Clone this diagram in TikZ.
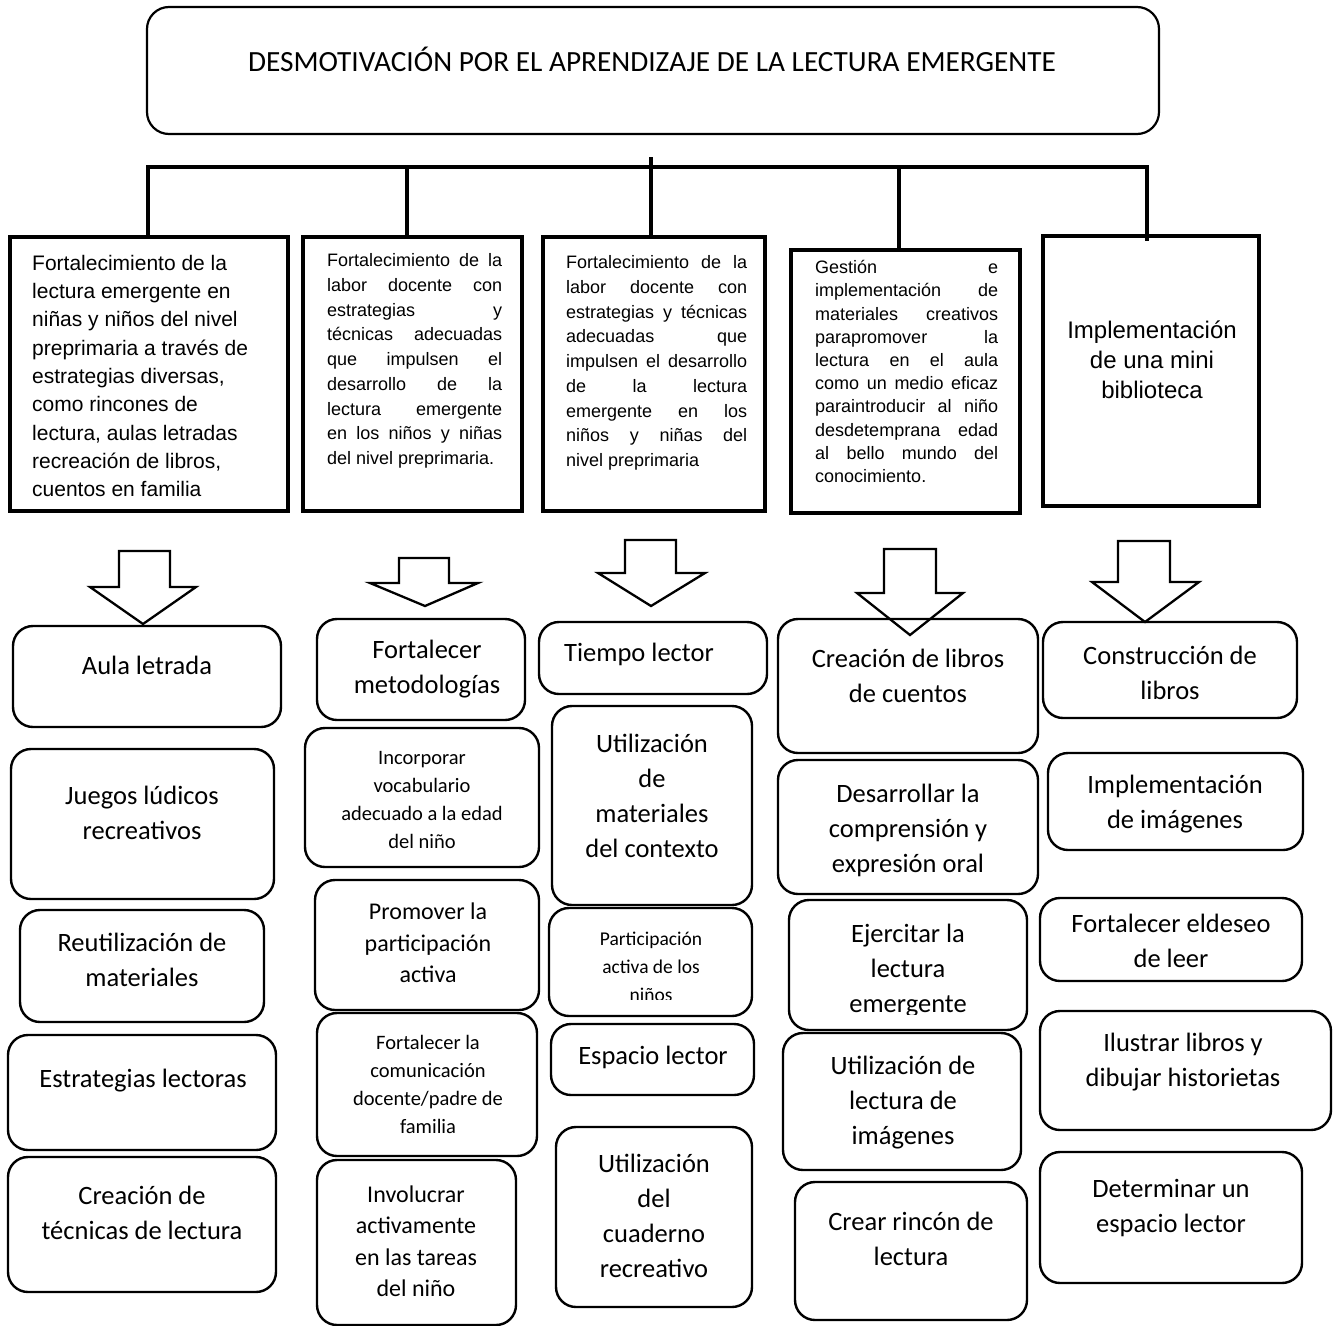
\documentclass[tikz,border=0pt]{standalone}
\usepackage{fontspec}
\setmainfont{Liberation Sans}
\newfontfamily\calfnt{Carlito}
\usetikzlibrary{fit}
\newcommand\jline[2]{\makebox[#1][s]{#2}}
\begin{document}
\begin{tikzpicture}[x=1pt,y=-1pt,
  topbox/.style={draw, line width=3.5pt, inner sep=0pt},
  titlebox/.style={draw, line width=2.2pt, rounded corners=22pt, inner sep=0pt},
  rb/.style={draw, line width=2.4pt, rounded corners=20pt, inner sep=0pt},
  bus/.style={line width=3.6pt},
  barrow/.style={line width=2.3pt, line join=miter},
  tb/.style={font=\calfnt\fontsize{26.5}{35}\selectfont, align=center, inner sep=0pt},
  tm/.style={font=\calfnt\fontsize{24}{31.5}\selectfont, align=center, inner sep=0pt},
  ts/.style={font=\calfnt\fontsize{20.5}{28}\selectfont, align=center, inner sep=0pt},
  ta/.style={font=\fontsize{21}{28.3}\selectfont, align=left, inner sep=0pt, anchor=west},
  tj/.style={font=\fontsize{18}{24.7}\selectfont, align=left, inner sep=0pt, anchor=west},
  tk/.style={font=\fontsize{18}{23.2}\selectfont, align=left, inner sep=0pt, anchor=west}
]
\useasboundingbox (0,0) rectangle (1335,1325);

% title
\node[titlebox, fit={(147,7) (1159,134)}] (title) {};
\node[font=\calfnt\fontsize{29.3}{35}\selectfont, inner sep=0pt] (ttitle) at (652,59) {DESMOTIVACIÓN POR EL APRENDIZAJE DE LA LECTURA EMERGENTE};

% top boxes
\node[topbox, fit={(10,237) (288,511)}] (b1) {};
\node[topbox, fit={(303,237) (522,511)}] (b2) {};
\node[topbox, fit={(543,237) (765,511)}] (b3) {};
\node[topbox, fit={(791,250) (1020,513)}] (b4) {};
\node[topbox, fit={(1043,236) (1259,506)}] (b5) {};

\node[ta] (tb1) at (32,376) {Fortalecimiento de la\\lectura emergente en\\niñas y niños del nivel\\preprimaria a través de\\estrategias diversas,\\como rincones de\\lectura, aulas letradas\\recreación de libros,\\cuentos en familia};

\node[tj] (tb2) at (327,361) {\jline{175pt}{Fortalecimiento de la}\\\jline{175pt}{labor docente con}\\\jline{175pt}{estrategias y}\\\jline{175pt}{técnicas adecuadas}\\\jline{175pt}{que impulsen el}\\\jline{175pt}{desarrollo de la}\\\jline{175pt}{lectura emergente}\\\jline{175pt}{en los niños y niñas}\\del nivel preprimaria.};

\node[tj] (tb3) at (566,363) {\jline{181pt}{Fortalecimiento de la}\\\jline{181pt}{labor docente con}\\\jline{181pt}{estrategias y técnicas}\\\jline{181pt}{adecuadas que}\\\jline{181pt}{impulsen el desarrollo}\\\jline{181pt}{de la lectura}\\\jline{181pt}{emergente en los}\\\jline{181pt}{niños y niñas del}\\nivel preprimaria};

\node[tk] (tb4) at (815,371.5) {\jline{183pt}{Gestión e}\\\jline{183pt}{implementación de}\\\jline{183pt}{materiales creativos}\\\jline{183pt}{parapromover la}\\\jline{183pt}{lectura en el aula}\\\jline{183pt}{como un medio eficaz}\\\jline{183pt}{paraintroducir al niño}\\\jline{183pt}{desdetemprana edad}\\\jline{183pt}{al bello mundo del}\\conocimiento.};

\node[font=\fontsize{24}{30}\selectfont, align=center, inner sep=0pt] (tb5) at (1152,360) {Implementación\\de una mini\\biblioteca};

% connectors
\coordinate (root) at (651,157);
\coordinate (busL) at (148,167);
\coordinate (busR) at (1147,167);
\coordinate (j2) at (407,167);
\coordinate (j3) at (651,167);
\coordinate (j4) at (899,167);
\draw[bus] (busL |- b1.north) -- (busL) -- (busR) -- (busR |- b5.north) -- ++(0,7);
\draw[bus] (root) -- (root |- b3.north);
\draw[bus] (j2) -- (j2 |- b2.north);
\draw[bus] (j4) -- (j4 |- b4.north);

% block arrows
\draw[barrow] (119,551) -- (170,551) -- (170,587) -- (196,587) -- (143,624) -- (90,587) -- (119,587) -- cycle;
\draw[barrow] (399,558) -- (449,558) -- (449,583) -- (478,583) -- (425,606) -- (370,583) -- (399,583) -- cycle;
\draw[barrow] (625,540) -- (676,540) -- (676,573) -- (705,573) -- (651,606) -- (598,573) -- (625,573) -- cycle;
\draw[barrow] (884,549) -- (936,549) -- (936,593) -- (963,593) -- (910,635) -- (857,593) -- (884,593) -- cycle;
\draw[barrow] (1118,541) -- (1170,541) -- (1170,582) -- (1199,582) -- (1145,622) -- (1092,582) -- (1118,582) -- cycle;

% column 1
\node[rb, fit={(13,626) (281,727)}] (r11) {};
\node[rb, fit={(11,749) (274,899)}] (r12) {};
\node[rb, fit={(20,910) (264,1022)}] (r13) {};
\node[rb, fit={(8,1035) (276,1150)}] (r14) {};
\node[rb, fit={(8,1157) (276,1292)}] (r15) {};
\node[tb] (t11) at (147,665) {Aula letrada};
\node[tb] (t12) at (142,813) {Juegos lúdicos\\recreativos};
\node[tb] (t13) at (142,960) {Reutilización de\\materiales};
\node[tb] (t14) at (143,1081) {Estrategias lectoras};
\node[tb] (t15) at (142,1213) {Creación de\\técnicas de lectura};

% column 2
\node[rb, fit={(317,619) (525,720)}] (r21) {};
\node[rb, fit={(305,728) (539,867)}] (r22) {};
\node[rb, fit={(315,880) (539,1010)}] (r23) {};
\node[rb, fit={(317,1013) (537,1156)}] (r24) {};
\node[rb, fit={(317,1160) (516,1325)}] (r25) {};
\node[tb] (t21) at (427,669) {Fortalecer\\metodologías};
\node[ts] (t22) at (422,800) {Incorporar\\vocabulario\\adecuado a la edad\\del niño};
\node[tm] (t23) at (428,943) {Promover la\\participación\\activa};
\node[ts] (t24) at (428,1084) {Fortalecer la\\comunicación\\docente/padre de\\familia};
\node[tm] (t25) at (416,1241) {Involucrar\\activamente\\en las tareas\\del niño};

% column 3
\node[rb, fit={(539,622) (767,694)}] (r31) {};
\node[rb, fit={(552,706) (752,905)}] (r32) {};
\node[rb, fit={(549,908) (752,1016)}] (r33) {};
\node[rb, fit={(551,1024) (754,1095)}] (r34) {};
\node[rb, fit={(556,1127) (752,1307)}] (r35) {};
\node[tb] (t31) at (639,654) {Tiempo lector};
\node[tb] (t32) at (652,796) {Utilización\\de\\materiales\\del contexto};
\begin{scope}
\clip (549,908) rectangle (752,999.5);
\node[ts, font=\calfnt\fontsize{19.5}{28}\selectfont] (t33) at (651,967) {Participación\\activa de los\\niños};
\end{scope}
\node[tb] (t34) at (653,1057) {Espacio lector};
\node[tb] (t35) at (654,1216) {Utilización\\del\\cuaderno\\recreativo};

% column 4
\node[rb, fit={(778,619) (1038,753)}] (r41) {};
\node[rb, fit={(778,760) (1038,894)}] (r42) {};
\node[rb, fit={(789,900) (1027,1030)}] (r43) {};
\node[rb, fit={(783,1033) (1021,1170)}] (r44) {};
\node[rb, fit={(795,1182) (1027,1320)}] (r45) {};
\node[tb] (t41) at (908,676) {Creación de libros\\de cuentos};
\node[tb] (t42) at (908,830) {Desarrollar la\\comprensión y\\expresión oral};
\begin{scope}
\clip (789,900) rectangle (1027,1014);
\node[tb] (t43) at (908,971) {Ejercitar la\\lectura\\emergente};
\end{scope}
\node[tb] (t44) at (903,1103) {Utilización de\\lectura de\\imágenes};
\node[tb] (t45) at (911,1239) {Crear rincón de\\lectura};

% column 5
\node[rb, fit={(1043,622) (1297,718)}] (r51) {};
\node[rb, fit={(1048,753) (1303,850)}] (r52) {};
\node[rb, fit={(1040,898) (1302,981)}] (r53) {};
\node[rb, fit={(1040,1011) (1331,1130)}] (r54) {};
\node[rb, fit={(1040,1152) (1302,1283)}] (r55) {};
\node[tb] (t51) at (1170,673) {Construcción de\\libros};
\node[tb] (t52) at (1175,804) {Implementación\\de imágenes};
\begin{scope}
\clip (1040,898) rectangle (1302,967);
\node[tb] (t53) at (1171,941) {Fortalecer eldeseo\\de leer};
\end{scope}
\node[tb] (t54) at (1183,1062) {Ilustrar libros y\\dibujar historietas};
\node[tb] (t55) at (1171,1208) {Determinar un\\espacio lector};
\end{tikzpicture}
\end{document}
